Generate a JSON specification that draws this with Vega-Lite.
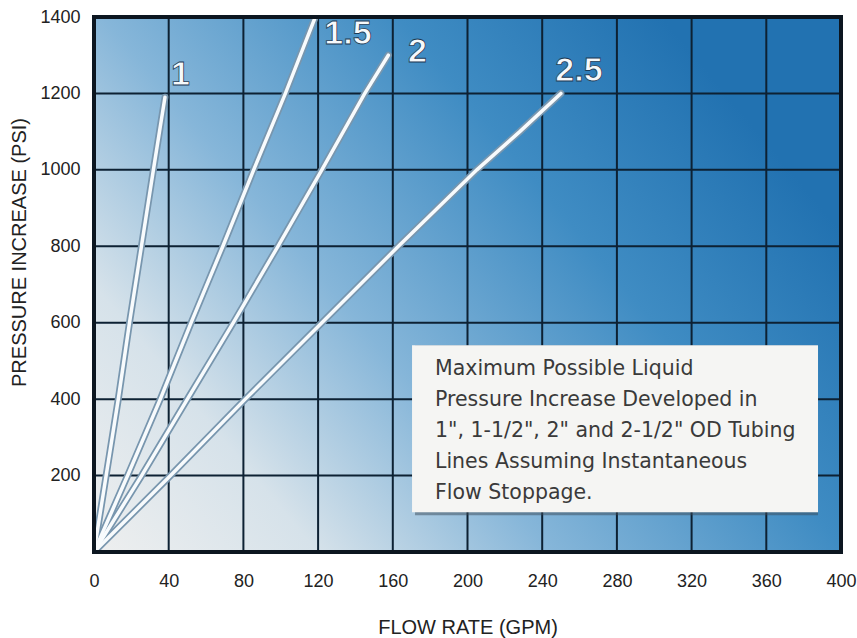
{
  "$schema": "https://vega.github.io/schema/vega-lite/v6.json",
  "width": 747,
  "height": 535,
  "autosize": {"type": "none"},
  "padding": {"left": 94, "top": 17, "right": 16, "bottom": 86},
  "background": "white",
  "config": {"view": {"stroke": null}},
  "datasets": {
    "bg": [{"x0": 0, "x1": 400, "y0": 0, "y1": 1400}],
    "gx": [{"v": 40}, {"v": 80}, {"v": 120}, {"v": 160}, {"v": 200}, {"v": 240}, {"v": 280}, {"v": 320}, {"v": 360}],
    "gy": [{"v": 200}, {"v": 400}, {"v": 600}, {"v": 800}, {"v": 1000}, {"v": 1200}],
    "lines": [
      {"s": "1", "x": 0, "y": 0}, {"s": "1", "x": 6.5, "y": 200}, {"s": "1", "x": 13, "y": 400}, {"s": "1", "x": 19, "y": 600}, {"s": "1", "x": 25.4, "y": 800}, {"s": "1", "x": 31.8, "y": 1000}, {"s": "1", "x": 38, "y": 1190},
      {"s": "1.5", "x": 0, "y": 0}, {"s": "1.5", "x": 18, "y": 200}, {"s": "1.5", "x": 35.5, "y": 400}, {"s": "1.5", "x": 52, "y": 600}, {"s": "1.5", "x": 69, "y": 800}, {"s": "1.5", "x": 85.5, "y": 1000}, {"s": "1.5", "x": 102.5, "y": 1200}, {"s": "1.5", "x": 118.5, "y": 1400},
      {"s": "2", "x": 0, "y": 0}, {"s": "2", "x": 25.5, "y": 200}, {"s": "2", "x": 50, "y": 400}, {"s": "2", "x": 74.6, "y": 600}, {"s": "2", "x": 98.5, "y": 800}, {"s": "2", "x": 122, "y": 1000}, {"s": "2", "x": 145, "y": 1200}, {"s": "2", "x": 157.6, "y": 1300},
      {"s": "2.5", "x": 0, "y": 0}, {"s": "2.5", "x": 41, "y": 200}, {"s": "2.5", "x": 81, "y": 400}, {"s": "2.5", "x": 122, "y": 600}, {"s": "2.5", "x": 163, "y": 800}, {"s": "2.5", "x": 205, "y": 1000}, {"s": "2.5", "x": 228, "y": 1100}, {"s": "2.5", "x": 250, "y": 1200}
    ],
    "labels": [
      {"s": "1", "x": 46.3, "y": 1247},
      {"s": "1.5", "x": 136, "y": 1355},
      {"s": "2", "x": 173.2, "y": 1309},
      {"s": "2.5", "x": 259.7, "y": 1259}
    ],
    "box": [{"x0": 170.3, "x1": 387.7, "y0": 104, "y1": 541, "tx": 182.6, "ty": 462.4, "note": "Maximum Possible Liquid\nPressure Increase Developed in\n1\", 1-1/2\", 2\" and 2-1/2\" OD Tubing\nLines Assuming Instantaneous\nFlow Stoppage."}]
  },
  "layer": [
    {
      "data": {"name": "bg"},
      "mark": {"type": "rect", "fill": {"gradient": "linear", "x1": 0, "y1": 1, "x2": 1, "y2": 0.4, "stops": [
        {"offset": 0, "color": "#eeefef"},
        {"offset": 0.22, "color": "#d6e2ea"},
        {"offset": 0.45, "color": "#86b6d9"},
        {"offset": 0.74, "color": "#3f8cc3"},
        {"offset": 1, "color": "#2272b1"}
      ]}},
      "encoding": {
        "x": {"field": "x0", "type": "quantitative", "scale": {"domain": [0, 400], "nice": false},
          "axis": {"values": [0, 40, 80, 120, 160, 200, 240, 280, 320, 360, 400], "format": "d", "grid": false, "domain": false, "ticks": false, "labelFlush": false, "labelOverlap": false, "labelPadding": 20, "labelFontSize": 18, "labelFont": "Liberation Sans", "labelColor": "#222222", "title": "FLOW RATE (GPM)", "titleFont": "Liberation Sans", "titleFontSize": 20, "titleFontWeight": "normal", "titleColor": "#222222", "titleY": 81, "titleBaseline": "alphabetic"}},
        "x2": {"field": "x1"},
        "y": {"field": "y0", "type": "quantitative", "scale": {"domain": [0, 1400], "nice": false},
          "axis": {"values": [200, 400, 600, 800, 1000, 1200, 1400], "format": "d", "grid": false, "domain": false, "ticks": false, "labelFlush": false, "labelOverlap": false, "labelPadding": 14, "labelFontSize": 18, "labelFont": "Liberation Sans", "labelColor": "#222222", "title": "PRESSURE INCREASE (PSI)", "titleFont": "Liberation Sans", "titleFontSize": 20, "titleFontWeight": "normal", "titleColor": "#222222", "titleX": -75, "titleY": 235, "titleBaseline": "middle"}},
        "y2": {"field": "y1"}
      }
    },
    {
      "data": {"name": "gx"},
      "mark": {"type": "rule", "color": "#0d2133", "strokeWidth": 2},
      "encoding": {"x": {"field": "v", "type": "quantitative"}}
    },
    {
      "data": {"name": "gy"},
      "mark": {"type": "rule", "color": "#0d2133", "strokeWidth": 2},
      "encoding": {"y": {"field": "v", "type": "quantitative"}}
    },
    {
      "data": {"name": "lines"},
      "mark": {"type": "line", "color": "#7896ae", "strokeWidth": 7, "strokeCap": "round", "clip": true},
      "encoding": {
        "x": {"field": "x", "type": "quantitative"},
        "y": {"field": "y", "type": "quantitative"},
        "detail": {"field": "s"}
      }
    },
    {
      "data": {"name": "lines"},
      "mark": {"type": "line", "color": "#f8fbfd", "strokeWidth": 3.5, "strokeCap": "round", "clip": true},
      "encoding": {
        "x": {"field": "x", "type": "quantitative"},
        "y": {"field": "y", "type": "quantitative"},
        "detail": {"field": "s"}
      }
    },
    {
      "data": {"name": "labels"},
      "mark": {"type": "text", "font": "Liberation Sans", "fontWeight": "bold", "fontSize": 34, "color": "#f6f9fb", "stroke": "#1b3a55", "strokeWidth": 0.8, "align": "center", "baseline": "middle"},
      "encoding": {
        "x": {"field": "x", "type": "quantitative"},
        "y": {"field": "y", "type": "quantitative"},
        "text": {"field": "s"}
      }
    },
    {
      "data": {"name": "box"},
      "mark": {"type": "rect", "fill": "#3a4a58", "opacity": 0.5, "xOffset": 3, "yOffset": 3},
      "encoding": {
        "x": {"field": "x0", "type": "quantitative"},
        "x2": {"field": "x1"},
        "y": {"field": "y0", "type": "quantitative"},
        "y2": {"field": "y1"}
      }
    },
    {
      "data": {"name": "box"},
      "mark": {"type": "rect", "fill": "#f5f5f3"},
      "encoding": {
        "x": {"field": "x0", "type": "quantitative"},
        "x2": {"field": "x1"},
        "y": {"field": "y0", "type": "quantitative"},
        "y2": {"field": "y1"}
      }
    },
    {
      "data": {"name": "box"},
      "mark": {"type": "text", "font": "DejaVu Sans", "fontSize": 20.5, "color": "#3a3a3a", "align": "left", "baseline": "alphabetic", "lineBreak": "\n", "lineHeight": 31},
      "encoding": {
        "x": {"field": "tx", "type": "quantitative"},
        "y": {"field": "ty", "type": "quantitative"},
        "text": {"field": "note"}
      }
    },
    {
      "data": {"name": "bg"},
      "mark": {"type": "rect", "fill": null, "fillOpacity": 0, "stroke": "#0c1620", "strokeWidth": 4},
      "encoding": {
        "x": {"field": "x0", "type": "quantitative"},
        "x2": {"field": "x1"},
        "y": {"field": "y0", "type": "quantitative"},
        "y2": {"field": "y1"}
      }
    }
  ]
}
